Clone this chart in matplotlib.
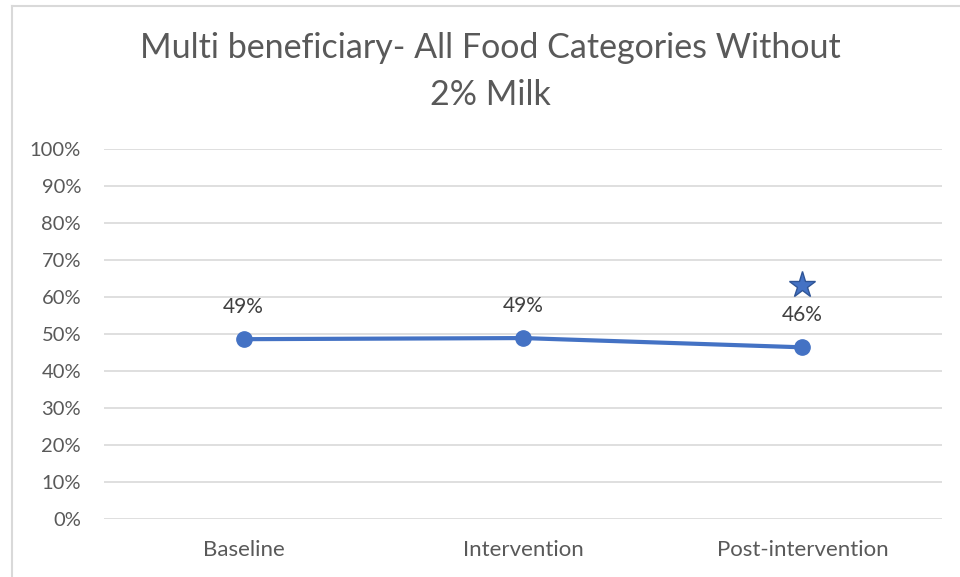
"""
Multi beneficiary line chart - all food categories without 2% milk
"""

import matplotlib.pyplot as plt
from matplotlib.lines import Line2D
from matplotlib.ticker import PercentFormatter

CATEGORIES = ["Baseline", "Intervention", "Post-intervention"]
SHARE = [0.486, 0.489, 0.464]
SHARE_LABELS = ["49%", "49%", "46%"]
STAR_X = [2]
STAR_Y = [0.632]
Y_TICKS = [i / 10 for i in range(11)]

TEXT_GREY = "#595959"
LINE_BLUE = "#4472C4"

plt.rcParams["font.family"] = ["Lato", "DejaVu Sans"]

fig = plt.figure(figsize=(9.6, 5.77), dpi=100)
ax = fig.add_axes([104 / 960, 1 - 519 / 577, 838 / 960, 370 / 577])

x = list(range(len(CATEGORIES)))
ax.plot(x, SHARE, color=LINE_BLUE, linewidth=3, marker="o",
        markersize=11, solid_capstyle="round", zorder=3)
ax.plot(STAR_X, STAR_Y, linestyle="none", marker="*", markersize=20,
        markerfacecolor=LINE_BLUE, markeredgecolor="#2F5597",
        markeredgewidth=1, zorder=3)

for xi, yi, lab in zip(x, SHARE, SHARE_LABELS):
    ax.annotate(lab, (xi, yi), xytext=(0, 23), textcoords="offset points",
                ha="center", va="center", fontsize=15, color="#404040")

ax.set_xlim(-0.5, len(CATEGORIES) - 0.5)
ax.set_ylim(0, 1)
ax.set_yticks(Y_TICKS)
ax.yaxis.set_major_formatter(PercentFormatter(1.0, decimals=0))
ax.set_xticks(x)
ax.set_xticklabels(CATEGORIES)
ax.tick_params(axis="both", length=0, labelsize=14.5, labelcolor=TEXT_GREY)
ax.tick_params(axis="y", pad=16.5)
ax.tick_params(axis="x", pad=15, labelsize=16)
ax.grid(axis="y", color="#D9D9D9", linewidth=1.2)
ax.set_axisbelow(True)
for spine in ax.spines.values():
    spine.set_visible(False)

fig.text(490 / 960, 1 - 48 / 577, "Multi beneficiary- All Food Categories Without",
         ha="center", va="center", fontsize=24.5, color=TEXT_GREY)
fig.text(490 / 960, 1 - 95 / 577, "2% Milk",
         ha="center", va="center", fontsize=24.5, color=TEXT_GREY)

# chart frame (only left and top edges visible in the crop)
fig.add_artist(Line2D([11.5 / 960, 11.5 / 960], [0, 1 - 5.5 / 577],
                      transform=fig.transFigure, color="#D9D9D9", linewidth=1.5))
fig.add_artist(Line2D([11.5 / 960, 1], [1 - 5.5 / 577, 1 - 5.5 / 577],
                      transform=fig.transFigure, color="#D9D9D9", linewidth=1.5))

fig.savefig("out.png", dpi=100)
